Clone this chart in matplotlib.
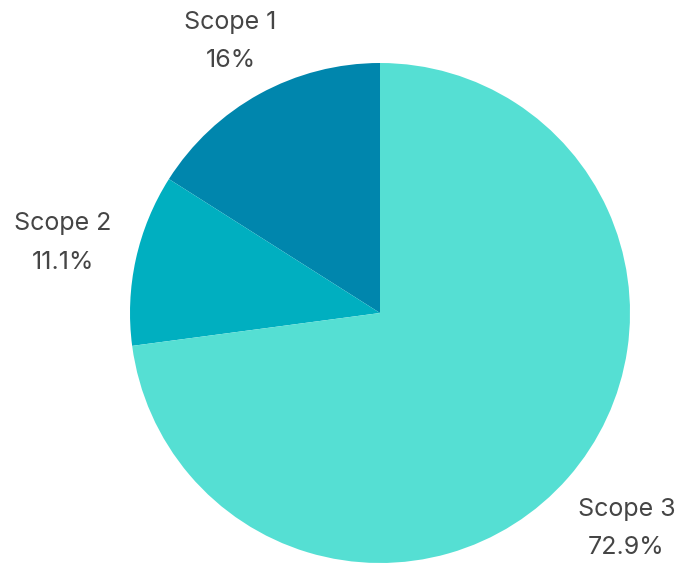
import matplotlib
matplotlib.use("Agg")
import matplotlib.pyplot as plt
import numpy as np

labels = ["Scope 1", "Scope 2", "Scope 3"]
shares = [16.0, 11.1, 72.9]
pct_text = ["16%", "11.1%", "72.9%"]
colors = ["#0086AD", "#00AFC0", "#55DFD3"]
label_dist = [1.24, 1.30, 1.31]

plt.rcParams["font.family"] = ["Inter", "DejaVu Sans"]

fig = plt.figure(figsize=(6.84, 5.64), dpi=100)
cx, cy, r = 380 / 684, 1 - 313 / 564, 250
ax = fig.add_axes([cx - r / 684, cy - r / 564, 2 * r / 684, 2 * r / 564])

wedges, texts = ax.pie(
    shares,
    labels=[f"{l}\n{p}" for l, p in zip(labels, pct_text)],
    colors=colors,
    startangle=90,
    counterclock=True,
    radius=1.0,
    textprops={"fontsize": 18, "color": "#454545"},
)
for w, t, d in zip(wedges, texts, label_dist):
    ang = np.deg2rad((w.theta1 + w.theta2) / 2)
    t.set_position((d * np.cos(ang), d * np.sin(ang)))
    t.set_ha("center")
    t.set_va("center")
    t.set_multialignment("center")
    t.set_linespacing(1.85)

ax.set_xlim(-1, 1)
ax.set_ylim(-1, 1)
ax.set_aspect("equal")
ax.axis("off")

fig.savefig("out.png", dpi=100)
